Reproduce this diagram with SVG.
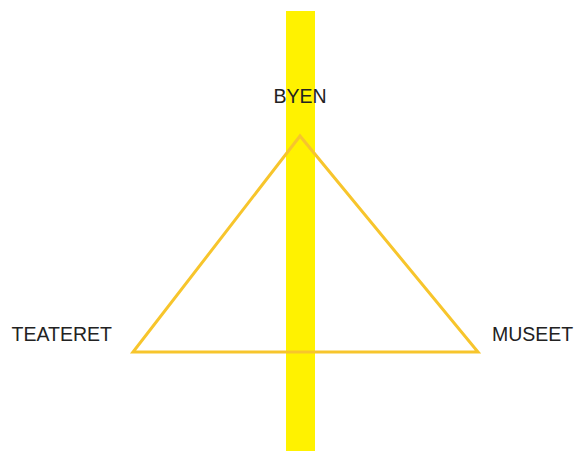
<svg xmlns="http://www.w3.org/2000/svg" width="575" height="451" viewBox="0 0 575 451">
<style>
.lbl{font-family:"Liberation Sans",Arial,sans-serif;font-size:19.5px;fill:#222}
</style>
<rect width="575" height="451" fill="#fff"/>
<rect id="bar" x="286" y="11" width="29" height="440" fill="#fff200"/>
<g id="connectors" fill="none" stroke="#f7c52c" stroke-width="3" stroke-linejoin="miter">
<polygon points="300,136 133,352 478,352"/>
</g>
<g id="byen"><text class="lbl" x="300" y="103" text-anchor="middle">BYEN</text></g>
<g id="teateret"><text class="lbl" x="112" y="341" text-anchor="end">TEATERET</text></g>
<g id="museet"><text class="lbl" x="492" y="341">MUSEET</text></g>
</svg>
